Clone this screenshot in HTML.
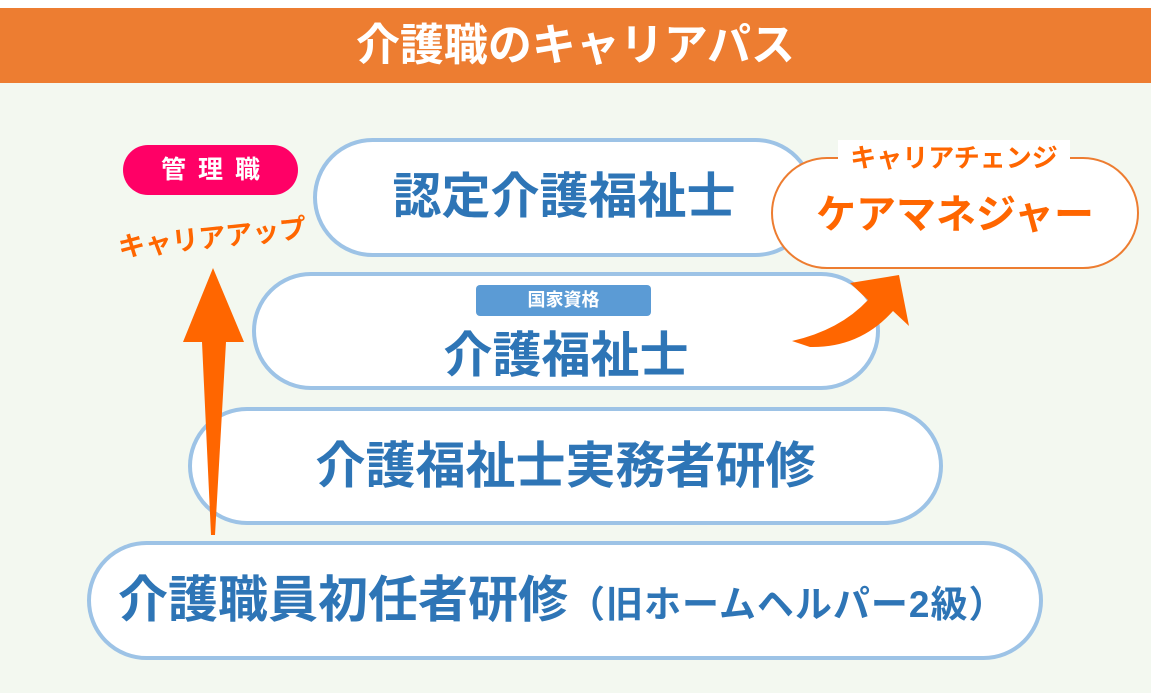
<!DOCTYPE html>
<html><head><meta charset="utf-8"><style>
*{margin:0;padding:0;box-sizing:border-box}
body{width:1151px;height:693px;background:#fff;position:relative;overflow:hidden;font-family:"Liberation Sans","Noto Sans CJK JP",sans-serif;font-weight:bold}
.bg{position:absolute;left:0;top:83px;width:1151px;height:610px;background:#f3f8f0}
.hdr{position:absolute;left:0;top:8px;width:1151px;height:75px;background:#ed7d31;color:#fff;font-size:44px;text-align:center;line-height:75px}
.pill{position:absolute;background:#fff;border:4px solid #9dc3e6;border-radius:60px;color:#2e75b6;font-size:49px;text-align:center}
.abs{position:absolute}
</style></head><body>
<div class="bg"></div>
<div class="hdr">介護職のキャリアパス</div>

<div class="pill" style="left:313px;top:138px;width:502px;height:119px;line-height:111px">認定介護福祉士</div>
<div class="pill" style="left:252px;top:272px;width:628px;height:118px;"><div style="position:absolute;left:0;right:0;top:50px;line-height:60px">介護福祉士</div></div>
<div class="abs" style="left:476px;top:285px;width:175px;height:31px;background:#5b9bd5;border-radius:4px;color:#fff;font-size:18px;text-align:center;line-height:31px">国家資格</div>
<div class="pill" style="left:188px;top:407px;width:755px;height:118px;line-height:110px;font-size:50px">介護福祉士実務者研修</div>
<div class="pill" style="left:87px;top:541px;width:956px;height:119px;line-height:111px;text-align:left;padding-left:27px;font-size:50px;white-space:nowrap">介護職員初任者研修<span style="font-size:37px;letter-spacing:1px">（旧ホームヘルパー2級）</span></div>

<div class="abs" style="left:771px;top:157px;width:368px;height:112px;border:2px solid #ed7d31;border-radius:56px;background:#fff;color:#ff6600;font-size:40px;text-align:center;line-height:112px">ケアマネジャー</div>
<div class="abs" style="left:838px;top:140px;width:232px;height:36px;background:#fff;color:#ff6600;font-size:26px;text-align:center;line-height:36px">キャリアチェンジ</div>

<div class="abs" style="left:123px;top:145px;width:175px;height:50px;background:#ff0066;border-radius:25px;color:#fff;font-size:25px;text-align:center;line-height:50px;letter-spacing:12px;padding-left:12px">管理職</div>
<div class="abs" style="left:118px;top:226px;width:190px;color:#ff6600;font-size:27px;transform:rotate(-6deg);transform-origin:left center;white-space:nowrap">キャリアアップ</div>

<svg class="abs" style="left:0;top:0" width="1151" height="693">
<path d="M213 268 L244 342 L226 342 L215 535 L211 535 L202 342 L183 342 Z" fill="#ff6600"/>
<path d="M792 341 Q840 330 868 300 L850 283 L899 275 L909 326 L893 311 Q860 348 810 347 Z" fill="#ff6600"/>
</svg>
</body></html>
